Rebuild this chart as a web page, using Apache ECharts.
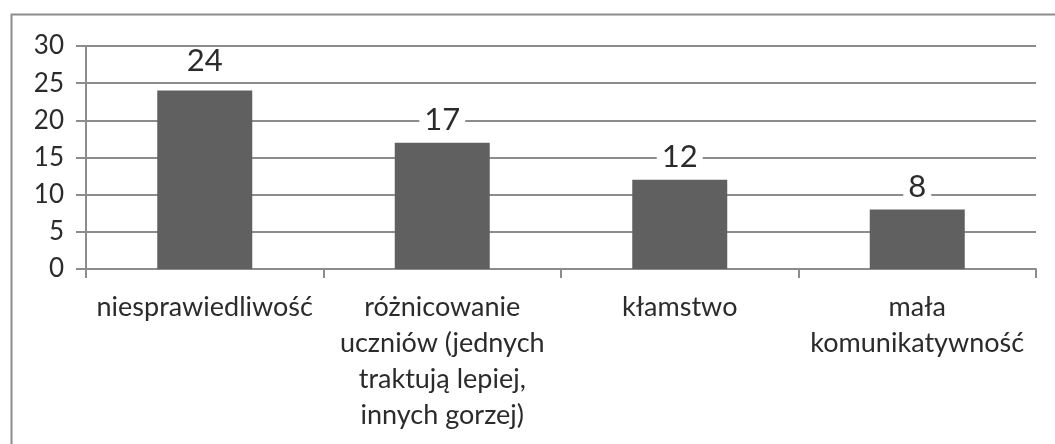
<!DOCTYPE html>
<html>
<head>
<meta charset="utf-8">
<script src="https://cdn.jsdelivr.net/npm/echarts@6/dist/echarts.min.js"></script>
<style>html,body{margin:0;padding:0;background:#fff;}#c{width:1055px;height:444px;}</style>
</head>
<body>
<div id="c"></div>
<script>
const categories = ["niesprawiedliwość", "różnicowanie\nuczniów (jednych\ntraktują lepiej,\ninnych gorzej)", "kłamstwo", "mała\nkomunikatywność"];
const values = [24, 17, 12, 8];
const yMin = 0, yMax = 30, yStep = 5;

const FONT = 'Lato';
const TXT = '#2b2b2b';
const LINE = '#8c8c8c';
const chart = echarts.init(document.getElementById('c'), null, {renderer: 'canvas'});
const barData = values.map((v, i) => i === 0 ? {value: v, label: {distance: 17}} : v);
chart.setOption({
  animation: false,
  backgroundColor: '#fff',
  graphic: [{
    type: 'rect', left: 9, top: 12, z: -1,
    shape: {width: 1100, height: 500},
    style: {fill: 'none', stroke: LINE, lineWidth: 2}
  }],
  grid: {left: 86, right: 19, top: 46, bottom: 175, containLabel: false},
  xAxis: {
    type: 'category', data: categories,
    axisLine: {lineStyle: {color: LINE, width: 2}},
    axisTick: {show: true, interval: 0, length: 9, lineStyle: {color: LINE, width: 2}},
    axisLabel: {interval: 0, color: TXT, fontFamily: FONT, fontSize: 27, lineHeight: 36, margin: 20}
  },
  yAxis: {
    type: 'value', min: yMin, max: yMax, interval: yStep,
    axisLine: {show: true, lineStyle: {color: LINE, width: 2}},
    axisTick: {show: true, length: 10, lineStyle: {color: LINE, width: 2}},
    splitLine: {lineStyle: {color: LINE, width: 2}},
    axisLabel: {color: TXT, fontFamily: FONT, fontSize: 26, margin: 22}
  },
  series: [{
    type: 'bar', data: barData, barWidth: '40%',
    itemStyle: {color: '#606060'},
    label: {show: true, position: 'top', distance: 10, color: TXT, fontFamily: FONT, fontSize: 31, lineHeight: 26,
      backgroundColor: '#fff', padding: [0, 5]}
  }]
});
</script>
</body>
</html>
